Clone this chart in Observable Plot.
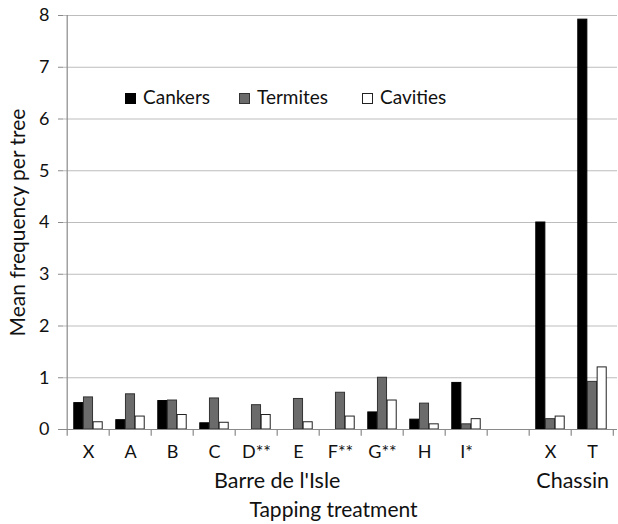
<!DOCTYPE html>
<html><head><meta charset="utf-8">
<script src="https://cdn.jsdelivr.net/npm/d3@7"></script>
<script src="https://cdn.jsdelivr.net/npm/@observablehq/plot@0.6"></script>
<style>
body{margin:0;background:#fff;}
#wrap{position:relative;width:618px;height:524px;font-family:Lato,"Open Sans",sans-serif;}
.leg{position:absolute;top:86px;font-size:19px;color:#111;line-height:22px;white-space:nowrap;}
.sw{display:inline-block;width:11px;height:11px;box-sizing:border-box;margin-right:7px;vertical-align:0px;}
</style>
</head><body><div id="wrap"></div>
<script>
const keys = ["X_b","A","B","C","D","E","F","G","H","I","gap","X_c","T"];
const tickLabels = ["X","A","B","C","D**","E","F**","G**","H","I*","","X","T"];
const series = ["Cankers","Termites","Cavities"];
const cankers  = [0.51,0.18,0.55,0.12,0,0,0,0.33,0.19,0.90,null,4.0,7.92];
const termites = [0.62,0.68,0.56,0.60,0.47,0.59,0.71,1.0,0.50,0.10,null,0.20,0.92];
const cavities = [0.14,0.25,0.28,0.13,0.28,0.14,0.25,0.56,0.10,0.20,null,0.25,1.2];
const fills = ["#000000","#6b6b6b","#ffffff"];
const strokes = ["#000000","#333333","#222222"];
const groupLabels = ["Barre de l'Isle","Chassin"];
const groupKeys = ["E","T"];

const W = 618, H = 524, ML = 63, MR = 1, MT = 15, MB = 95;
const bw = (W - ML - MR) / keys.length;
const step = bw / 4.4;
const vals = [cankers, termites, cavities];
const rows = [];
keys.forEach((k,i) => series.forEach((s,j) => {
  const v = vals[j][i];
  if (v != null && v > 0) rows.push({cat:k, series:s, j, value:v});
}));
const labelOf = Object.fromEntries(keys.map((k,i)=>[k,tickLabels[i]]));

const barMarks = series.map((s,j) => Plot.barY(rows.filter(r=>r.j===j), {
  x:"cat", y:"value", fill:fills[j], stroke:strokes[j], strokeWidth:1,
  insetLeft: step*(0.7+j), insetRight: bw - step*(1.7+j)
}));

const chart = Plot.plot({
  width: W, height: H, marginLeft: ML, marginRight: MR, marginTop: MT, marginBottom: MB,
  style: {fontFamily: "Lato, 'Open Sans', sans-serif", fontSize: "18px", color: "#111", background: "#fff"},
  x: {type:"band", domain: keys, padding: 0, axis: null},
  y: {domain:[0,8], axis: null},
  marks: [
    Plot.ruleY(d3.range(1,9), {stroke:"#bdbdbd", strokeWidth:1}),
    ...barMarks,
    Plot.ruleY([0], {stroke:"#8a8a8a", strokeWidth:1.2}),
    Plot.ruleX([keys[0]], {dx:-bw/2, y1:0, y2:8, stroke:"#8a8a8a", strokeWidth:1.2}),
    Plot.ruleX(keys, {x:d=>d, dx:-bw/2, y1:0, y2:-0.13, stroke:"#8a8a8a", strokeWidth:1.2}),
    Plot.ruleX([keys[keys.length-1]], {dx:bw/2-0.5, y1:0, y2:-0.13, stroke:"#8a8a8a", strokeWidth:1.2}),
    Plot.axisY({ticks: d3.range(0,9), tickSize:5, tickPadding:9, label:null, stroke:"#8a8a8a", fontSize:18}),
    Plot.text(keys, {x:d=>d, y:0, text:d=>labelOf[d], dy:23, fontSize:18}),
    Plot.text([groupLabels[0]], {x:()=>groupKeys[0], y:()=>0, dx:-bw/2, dy:52, fontSize:21.5}),
    Plot.text([groupLabels[1]], {x:()=>groupKeys[1], y:()=>0, dx:-bw/2+1.5, dy:52, fontSize:21.5}),
    Plot.text(["Tapping treatment"], {frameAnchor:"bottom", dx:-7, dy:87, fontSize:21}),
    Plot.text(["Mean frequency per tree"], {frameAnchor:"left", textAnchor:"middle", lineAnchor:"middle", rotate:-90, dx:-45, fontSize:21})
  ]
});
const wrap = document.getElementById("wrap");
wrap.appendChild(chart);
const legLeft = [125, 239, 362];
series.forEach((s,j) => {
  const d = document.createElement("div");
  d.className = "leg";
  d.style.left = legLeft[j] + "px";
  d.innerHTML = `<span class="sw" style="background:${fills[j]};border:1px solid ${strokes[j]}"></span>${s}`;
  wrap.appendChild(d);
});
</script></body></html>
